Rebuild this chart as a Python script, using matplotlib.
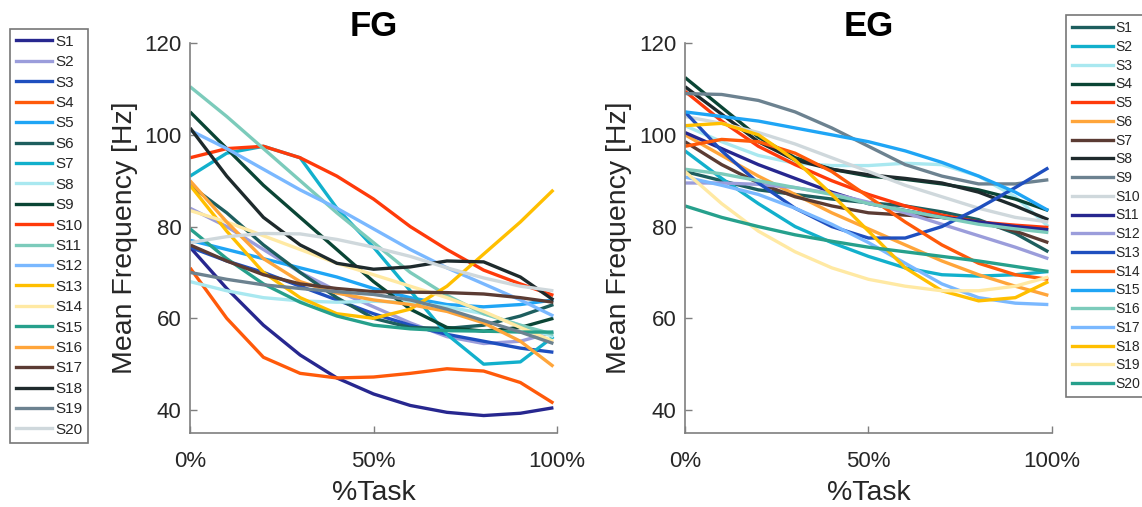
import matplotlib
matplotlib.use('Agg')
import matplotlib.pyplot as plt
from matplotlib.lines import Line2D

# % of task where each fitted curve was sampled
task_pct = [0, 10, 20, 30, 40, 50, 60, 70, 80, 90, 99]

# FG group, mean frequency [Hz]
fg_s1 = [75.5, 66.5, 58.5, 52.0, 47.0, 43.5, 41.0, 39.5, 38.8, 39.3, 40.5]
fg_s2 = [84.0, 80.0, 75.0, 70.0, 66.0, 62.5, 59.0, 56.0, 54.5, 55.0, 57.0]
fg_s3 = [75.5, 72.5, 70.0, 67.0, 64.0, 61.0, 58.5, 56.5, 55.0, 53.5, 52.6]
fg_s4 = [71.0, 60.0, 51.5, 48.0, 47.0, 47.2, 48.0, 49.0, 48.5, 46.0, 41.5]
fg_s5 = [77.0, 75.0, 73.0, 71.0, 69.0, 66.5, 64.5, 63.0, 62.5, 63.0, 64.0]
fg_s6 = [89.0, 83.0, 76.0, 70.0, 64.5, 60.0, 58.0, 57.8, 58.5, 60.5, 63.0]
fg_s7 = [91.0, 96.0, 97.5, 95.0, 84.0, 75.5, 66.0, 56.5, 50.0, 50.5, 56.0]
fg_s8 = [68.0, 66.0, 64.5, 63.8, 63.5, 63.7, 63.5, 62.5, 61.0, 58.5, 56.0]
fg_s9 = [105.0, 97.0, 89.0, 82.0, 75.0, 68.0, 62.0, 58.0, 57.2, 58.0, 60.0]
fg_s10 = [95.0, 97.0, 97.5, 95.0, 91.0, 86.0, 80.0, 75.0, 70.5, 67.5, 65.0]
fg_s11 = [110.5, 104.0, 97.0, 90.0, 83.0, 76.5, 70.0, 65.0, 61.0, 58.5, 56.5]
fg_s12 = [101.0, 97.0, 92.5, 88.0, 84.0, 79.5, 75.0, 71.0, 67.5, 64.0, 60.5]
fg_s13 = [89.0, 79.0, 70.0, 64.5, 61.0, 60.0, 62.0, 67.0, 74.0, 81.0, 88.0]
fg_s14 = [83.5, 81.0, 78.0, 75.0, 72.0, 69.5, 67.0, 64.5, 61.5, 58.0, 55.0]
fg_s15 = [79.5, 73.0, 67.5, 63.5, 60.5, 58.5, 57.7, 57.3, 57.2, 57.0, 57.0]
fg_s16 = [90.0, 81.0, 73.0, 68.0, 65.5, 64.0, 63.0, 61.5, 59.0, 55.0, 49.5]
fg_s17 = [76.0, 72.5, 69.5, 67.5, 66.5, 65.8, 65.7, 65.6, 65.3, 64.5, 63.5]
fg_s18 = [101.5, 91.0, 82.0, 76.0, 72.0, 70.7, 71.2, 72.5, 72.3, 69.0, 64.0]
fg_s19 = [70.0, 68.5, 67.3, 66.5, 65.8, 65.2, 64.0, 62.0, 59.5, 57.0, 54.5]
fg_s20 = [76.5, 77.8, 78.5, 78.4, 77.2, 75.5, 73.5, 71.0, 68.8, 67.0, 66.0]

# EG group, mean frequency [Hz]
eg_s1 = [92.0, 90.0, 88.0, 87.0, 86.0, 85.2, 84.5, 83.2, 81.5, 78.5, 74.5]
eg_s2 = [96.5, 90.5, 85.0, 80.0, 76.5, 73.5, 71.0, 69.5, 69.2, 69.5, 70.2]
eg_s3 = [102.0, 98.5, 95.5, 93.8, 93.3, 93.3, 93.8, 93.5, 91.0, 86.5, 80.0]
eg_s4 = [112.5, 106.0, 99.5, 95.0, 92.5, 91.0, 90.3, 89.3, 88.0, 86.0, 83.5]
eg_s5 = [109.5, 103.0, 97.5, 93.5, 90.0, 87.0, 84.5, 82.5, 81.0, 80.3, 79.8]
eg_s6 = [100.0, 95.5, 91.0, 87.0, 83.0, 79.5, 76.0, 72.5, 69.5, 67.0, 65.0]
eg_s7 = [98.5, 93.5, 89.5, 86.5, 84.5, 83.0, 82.5, 82.0, 81.0, 79.0, 76.5]
eg_s8 = [110.5, 104.5, 98.5, 94.5, 92.5, 91.3, 90.5, 89.5, 87.5, 84.5, 81.5]
eg_s9 = [109.0, 108.8, 107.5, 105.0, 101.5, 97.5, 93.5, 91.0, 89.3, 89.3, 90.2]
eg_s10 = [104.0, 102.5, 100.5, 98.0, 95.0, 92.0, 89.0, 86.5, 84.0, 82.0, 81.0]
eg_s11 = [100.5, 97.0, 93.5, 90.5, 87.5, 85.0, 83.5, 82.0, 81.0, 80.0, 79.3]
eg_s12 = [89.5, 89.5, 89.2, 88.5, 87.2, 85.3, 83.0, 80.5, 78.0, 75.5, 73.0]
eg_s13 = [105.0, 96.5, 89.5, 84.0, 80.0, 77.5, 77.5, 80.0, 84.0, 88.5, 92.8]
eg_s14 = [97.5, 99.0, 98.5, 96.0, 92.0, 86.5, 81.0, 76.0, 72.0, 69.5, 68.5]
eg_s15 = [105.0, 104.0, 103.0, 101.5, 100.0, 98.5, 96.5, 94.0, 91.0, 87.5, 83.5]
eg_s16 = [92.5, 91.5, 90.0, 88.5, 87.0, 85.0, 83.5, 82.0, 80.5, 79.5, 78.7]
eg_s17 = [90.8, 89.0, 87.0, 84.0, 80.5, 76.5, 72.0, 67.5, 64.5, 63.3, 63.0]
eg_s18 = [102.0, 102.5, 100.0, 94.5, 87.0, 79.0, 71.0, 66.0, 63.8, 64.5, 68.0]
eg_s19 = [92.0, 85.0, 79.0, 74.5, 71.0, 68.5, 67.0, 66.0, 66.0, 67.0, 69.0]
eg_s20 = [84.5, 82.0, 80.0, 78.2, 76.8, 75.5, 74.5, 73.5, 72.5, 71.3, 70.2]

fg_series = [fg_s1, fg_s2, fg_s3, fg_s4, fg_s5, fg_s6, fg_s7, fg_s8, fg_s9, fg_s10,
             fg_s11, fg_s12, fg_s13, fg_s14, fg_s15, fg_s16, fg_s17, fg_s18, fg_s19, fg_s20]
eg_series = [eg_s1, eg_s2, eg_s3, eg_s4, eg_s5, eg_s6, eg_s7, eg_s8, eg_s9, eg_s10,
             eg_s11, eg_s12, eg_s13, eg_s14, eg_s15, eg_s16, eg_s17, eg_s18, eg_s19, eg_s20]
labels = ['S%d' % i for i in range(1, 21)]

# palette shared by both groups
navy = '#27278f'
lavender = '#9b9ddb'
royal = '#1f4fbf'
orange_red = '#ff5a0a'
sky = '#1fa5f5'
dark_teal = '#1d5e5e'
cyan = '#12b0cc'
light_cyan = '#a9e8f0'
dark_green = '#0a4535'
red = '#ff3a0a'
mint = '#7ccbbb'
light_blue = '#7ab8ff'
yellow = '#ffbf00'
pale_yellow = '#ffe9a3'
teal = '#26a08c'
orange = '#ffa53a'
brown = '#5b3b33'
black = '#1e2a2c'
slate = '#6c8290'
light_gray = '#cfd8dc'

fg_colors = [navy, lavender, royal, orange_red, sky, dark_teal, cyan, light_cyan, dark_green, red,
             mint, light_blue, yellow, pale_yellow, teal, orange, brown, black, slate, light_gray]
eg_colors = [dark_teal, cyan, light_cyan, dark_green, red, orange, brown, black, slate, light_gray,
             navy, lavender, royal, orange_red, sky, mint, light_blue, yellow, pale_yellow, teal]

plt.rcParams['font.family'] = ['Liberation Sans', 'DejaVu Sans']
axis_gray = '#7f7f7f'
text_col = '#262626'

fig = plt.figure(figsize=(11.42, 5.07), dpi=100)
ax_fg = fig.add_axes([0.1664, 0.146, 0.3214, 0.769])
ax_eg = fig.add_axes([0.5998, 0.146, 0.3214, 0.769])


def draw_panel(ax, series, colors, title):
    for vals, col in zip(series, colors):
        ax.plot(task_pct, vals, color=col, lw=2.4, solid_capstyle='butt',
                solid_joinstyle='round')
    ax.set_xlim(0, 100)
    ax.set_ylim(35, 120)
    ax.set_xticks([0, 50, 100])
    ax.set_xticklabels(['0%', '50%', '100%'])
    ax.set_yticks([40, 60, 80, 100, 120])
    for side in ['top', 'right']:
        ax.spines[side].set_visible(False)
    for side in ['left', 'bottom']:
        ax.spines[side].set_color(axis_gray)
        ax.spines[side].set_linewidth(1.2)
    ax.tick_params(direction='in', length=5, width=1, color=axis_gray,
                   labelsize=16, labelcolor=text_col)
    ax.tick_params(axis='x', pad=13)
    ax.tick_params(axis='y', pad=6)
    ax.set_xlabel('%Task', fontsize=20.5, color=text_col, labelpad=6)
    ax.set_ylabel('Mean Frequency [Hz]', fontsize=20.5, color=text_col, labelpad=5)
    ax.set_title(title, fontsize=25, fontweight='bold', pad=4)


draw_panel(ax_fg, fg_series, fg_colors, 'FG')
draw_panel(ax_eg, eg_series, eg_colors, 'EG')


def add_legend(colors, anchor, size, spacing, hlen, pad):
    handles = [Line2D([], [], color=c, lw=2.4) for c in colors]
    leg = fig.legend(handles, labels, loc='upper left', bbox_to_anchor=anchor,
                     bbox_transform=fig.transFigure, fontsize=size, frameon=True,
                     fancybox=False, edgecolor='#555555', handlelength=hlen,
                     handletextpad=0.2, labelspacing=spacing, borderpad=pad,
                     borderaxespad=0)
    leg.get_frame().set_linewidth(1.2)
    for t in leg.get_texts():
        t.set_color(text_col)
    return leg


add_legend(fg_colors, (10 / 1142, 1 - 29 / 507), 11, 0.42, 2.4, 0.38)
add_legend(eg_colors, (1066 / 1142, 1 - 15 / 507), 10, 0.34, 2.9, 0.45)

plt.savefig('out.png', dpi=100)
